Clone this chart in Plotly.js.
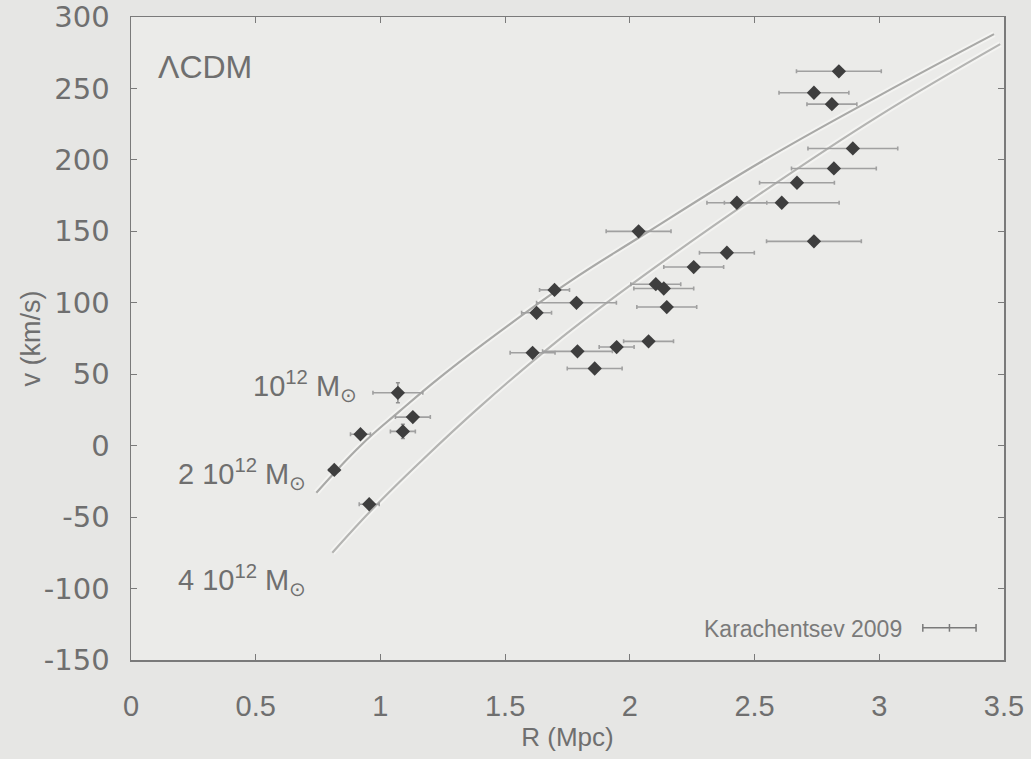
<!DOCTYPE html>
<html>
<head>
<meta charset="utf-8">
<script src="https://cdn.plot.ly/plotly-3.0.1.min.js"></script>
<style>
  html, body { margin: 0; padding: 0; background: #e6e6e4; }
  #chart { width: 1031px; height: 759px; }
</style>
</head>
<body>
<div id="chart"></div>
<script>
// Observed galaxies (Karachentsev 2009): distance R (Mpc), velocity v (km/s)
const obsR = [1.07, 1.13, 1.09, 0.92, 0.815, 0.955, 1.61, 1.79, 1.947, 2.075, 1.859, 1.698, 1.626, 1.786, 2.035, 2.104, 2.136, 2.148, 2.256, 2.389, 2.429, 2.609, 2.67, 2.738, 2.818, 2.894, 2.81, 2.738, 2.838];
const obsV = [37, 20, 10, 8, -17, -41, 65, 66, 69, 73, 54, 109, 93, 100, 150, 113, 110, 97, 125, 135, 170, 170, 184, 143, 194, 208, 239, 247, 262];
const obsRerr = [0.1, 0.07, 0.05, 0.04, 0.02, 0.04, 0.09, 0.14, 0.07, 0.1, 0.11, 0.06, 0.06, 0.16, 0.13, 0.1, 0.12, 0.12, 0.12, 0.11, 0.12, 0.23, 0.15, 0.19, 0.17, 0.18, 0.1, 0.14, 0.17];
const obsVerr = [7, 0, 5, 0, 0, 0, 0, 0, 0, 0, 0, 0, 0, 0, 0, 0, 0, 0, 0, 0, 0, 0, 0, 0, 0, 0, 0, 0, 0];

// LambdaCDM model curves
const modelUpperR = [0.743, 0.92, 1.076, 1.24, 1.48, 1.76, 2.04, 2.52, 3.0, 3.46];
const modelUpperV = [-33, 0, 24, 48, 80, 115, 146, 198, 245, 288];
const modelLowerR = [0.807, 0.97, 1.168, 1.397, 1.7, 2.0, 2.52, 3.0, 3.485];
const modelLowerV = [-75, -44, -10, 27, 72, 112, 176, 231, 281];

// Mass labels
const massLabels = ["10<sup>12</sup> M<sub>⊙</sub>", "2 10<sup>12</sup> M<sub>⊙</sub>", "4 10<sup>12</sup> M<sub>⊙</sub>"];
const massLabelR = [0.915, 0.71, 0.71];
const massLabelV = [42, -20, -94];

const xTicks = [0, 0.5, 1, 1.5, 2, 2.5, 3, 3.5];
const xTickText = ["0", "0.5", "1", "1.5", "2", "2.5", "3", "3.5"];
const yTicks = [-150, -100, -50, 0, 50, 100, 150, 200, 250, 300];
const yTickText = ["-150", "-100", "-50", "0", "50", "100", "150", "200", "250", "300"];

const textColor = '#6f6f6f';

function curve(xs, ys, color, width) {
  return { x: xs, y: ys, type: 'scatter', mode: 'lines', line: { color: color, width: width, shape: 'spline', smoothing: 1.2 }, hoverinfo: 'skip', showlegend: false };
}

const traces = [
  curve(modelUpperR, modelUpperV, '#f4f4f2', 6),
  curve(modelLowerR, modelLowerV, '#f4f4f2', 6),
  curve(modelUpperR, modelUpperV, '#a9a9a7', 2.2),
  curve(modelLowerR, modelLowerV, '#b4b4b2', 2.2),
  {
    x: obsR, y: obsV, type: 'scatter', mode: 'markers', name: 'Karachentsev 2009',
    marker: { symbol: 'diamond', size: 11, color: '#3e3e3e' },
    error_x: { type: 'data', array: obsRerr, color: '#a0a0a0', thickness: 1.6, width: 2 },
    error_y: { type: 'data', array: obsVerr, color: '#8f8f8f', thickness: 1.5, width: 2 },
    showlegend: false
  }
];

const annotations = [
  { x: 0.1, y: 265, xref: 'x', yref: 'y', text: 'ΛCDM', showarrow: false, xanchor: 'left', yanchor: 'middle',
    font: { family: 'Liberation Sans, Arial, sans-serif', size: 32, color: textColor } },
  { x: 3.1, y: -128, xref: 'x', yref: 'y', text: 'Karachentsev 2009', showarrow: false, xanchor: 'right', yanchor: 'middle',
    font: { family: 'Liberation Sans, Arial, sans-serif', size: 23, color: '#7a7a7a' } },
  { x: 0, y: 0.5, xref: 'paper', yref: 'paper', xshift: -101, text: 'v (km/s)', textangle: -90, showarrow: false,
    xanchor: 'center', yanchor: 'middle', font: { family: 'Liberation Sans, Arial, sans-serif', size: 27, color: textColor } }
];
for (let i = 0; i < massLabels.length; i++) {
  annotations.push({ x: massLabelR[i], y: massLabelV[i], xref: 'x', yref: 'y', text: massLabels[i], showarrow: false,
    xanchor: 'right', yanchor: 'middle', font: { family: 'Liberation Sans, Arial, sans-serif', size: 29, color: textColor } });
}

// legend sample (error bar symbol) in paper coordinates
const lx0 = 0.907, lx1 = 0.968, lxm = 0.9375, ly = 0.05;
const shapes = [
  { type: 'line', xref: 'paper', yref: 'paper', x0: lx0, x1: lx1, y0: ly, y1: ly, line: { color: '#7a7a7a', width: 1.5 } },
  { type: 'line', xref: 'paper', yref: 'paper', x0: lx0, x1: lx0, y0: ly - 0.006, y1: ly + 0.006, line: { color: '#7a7a7a', width: 1.5 } },
  { type: 'line', xref: 'paper', yref: 'paper', x0: lx1, x1: lx1, y0: ly - 0.006, y1: ly + 0.006, line: { color: '#7a7a7a', width: 1.5 } },
  { type: 'line', xref: 'paper', yref: 'paper', x0: lxm, x1: lxm, y0: ly - 0.006, y1: ly + 0.006, line: { color: '#7a7a7a', width: 1.5 } }
];

const layout = {
  width: 1031, height: 759,
  paper_bgcolor: '#e6e6e4', plot_bgcolor: '#ebebe9',
  margin: { l: 131, r: 27, t: 17, b: 99 },
  showlegend: false,
  xaxis: {
    range: [0, 3.5], tickvals: xTicks, ticktext: xTickText,
    ticks: 'inside', ticklen: 6, tickcolor: '#7a7a7a', showgrid: false, zeroline: false,
    showline: true, linecolor: '#7a7a7a', linewidth: 1.5, mirror: 'ticks',
    tickfont: { family: 'Liberation Sans Narrow, Arial Narrow, Liberation Sans, Arial, sans-serif', size: 29, color: textColor },
    ticklabelstandoff: 20, ticklabeloverflow: 'allow',
    title: { text: 'R (Mpc)', standoff: 2, font: { family: 'Liberation Sans, Arial, sans-serif', size: 26, color: textColor } }
  },
  yaxis: {
    range: [-150, 300], tickvals: yTicks, ticktext: yTickText,
    ticks: 'inside', ticklen: 6, tickcolor: '#7a7a7a', showgrid: false, zeroline: false,
    showline: true, linecolor: '#7a7a7a', linewidth: 1.5, mirror: 'ticks',
    tickfont: { family: 'DejaVu Sans, sans-serif', size: 29, color: textColor },
    ticklabelstandoff: 14, ticklabeloverflow: 'allow'
  },
  annotations: annotations,
  shapes: shapes
};

Plotly.newPlot('chart', traces, layout, { staticPlot: true, displayModeBar: false });
</script>
</body>
</html>
